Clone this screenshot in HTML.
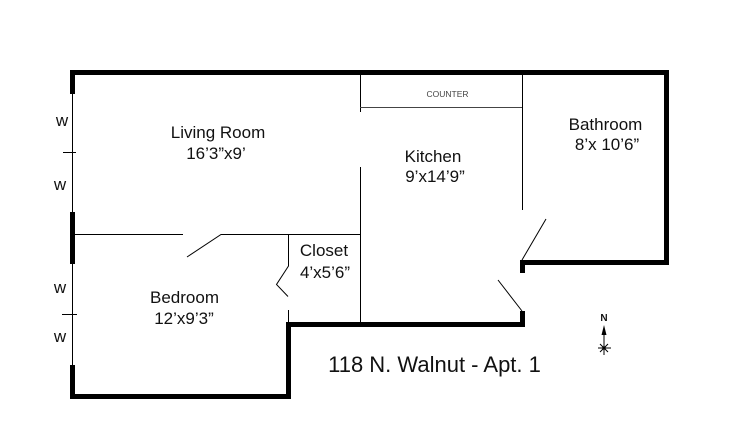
<!DOCTYPE html>
<html>
<head>
<meta charset="utf-8">
<style>
html,body{margin:0;padding:0;background:#fff;width:756px;height:432px;overflow:hidden}
svg{display:block}
text{font-family:"Liberation Sans",sans-serif;fill:#111;text-anchor:middle}
</style>
</head>
<body>
<svg width="756" height="432" viewBox="0 0 756 432" xmlns="http://www.w3.org/2000/svg">
<rect width="756" height="432" fill="#fff"/>
<g fill="#000">
<rect x="70" y="70" width="599" height="5"/>
<rect x="70" y="70" width="5" height="24"/>
<rect x="70" y="212" width="5" height="52"/>
<rect x="70" y="365" width="5" height="34"/>
<rect x="70" y="394" width="221" height="5"/>
<rect x="286" y="322" width="5" height="77"/>
<rect x="286" y="322" width="239" height="5"/>
<rect x="520" y="311" width="5" height="16"/>
<rect x="520" y="260" width="5" height="13"/>
<rect x="520" y="260" width="149" height="5"/>
<rect x="664" y="70" width="5" height="195"/>
</g>
<g stroke="#000" stroke-width="1" fill="none">
<path d="M72.500 94V212M72.500 264V365"/>
<path d="M63 152.500H76M62 314.500H77"/>
<path d="M75 234.500H183M187 257L221 234.500H360"/>
<path d="M360.500 75V112M360.500 167V323"/>
<path d="M360 107.500H522" stroke="#444"/>
<path d="M522.500 75V210"/>
<path d="M546 219L522 260M498 280L522 311"/>
<path d="M288.500 234V266L276.500 284.500L288 296.500M288.500 310V322"/>
<path d="M604 330V355M598 348H611M600 344L608 352M608 344L600 352"/>
</g>
<path d="M604 325L606.500 335H601.500Z" fill="#000"/>
<circle cx="604" cy="348" r="1.800" fill="#000"/>
<text x="604" y="321" font-size="10" font-weight="bold">N</text>
<text x="62" y="126" font-size="17">w</text>
<text x="60" y="190" font-size="17">w</text>
<text x="60" y="293" font-size="17">w</text>
<text x="60" y="342" font-size="17">w</text>
<text x="218" y="138" font-size="17">Living Room</text>
<text x="216" y="159" font-size="17">16’3”x9’</text>
<text x="433" y="162" font-size="17">Kitchen</text>
<text x="435" y="182" font-size="17">9’x14’9”</text>
<text x="605.500" y="130" font-size="17">Bathroom</text>
<text x="607" y="150" font-size="17">8’x 10’6”</text>
<text x="324" y="256" font-size="17">Closet</text>
<text x="325" y="278" font-size="17">4’x5’6”</text>
<text x="184.500" y="303" font-size="17">Bedroom</text>
<text x="184" y="324" font-size="17">12’x9’3”</text>
<text x="447.500" y="97" font-size="8.500" style="fill:#444">COUNTER</text>
<text x="434.500" y="372" font-size="22">118 N. Walnut - Apt. 1</text>
</svg>
</body>
</html>
